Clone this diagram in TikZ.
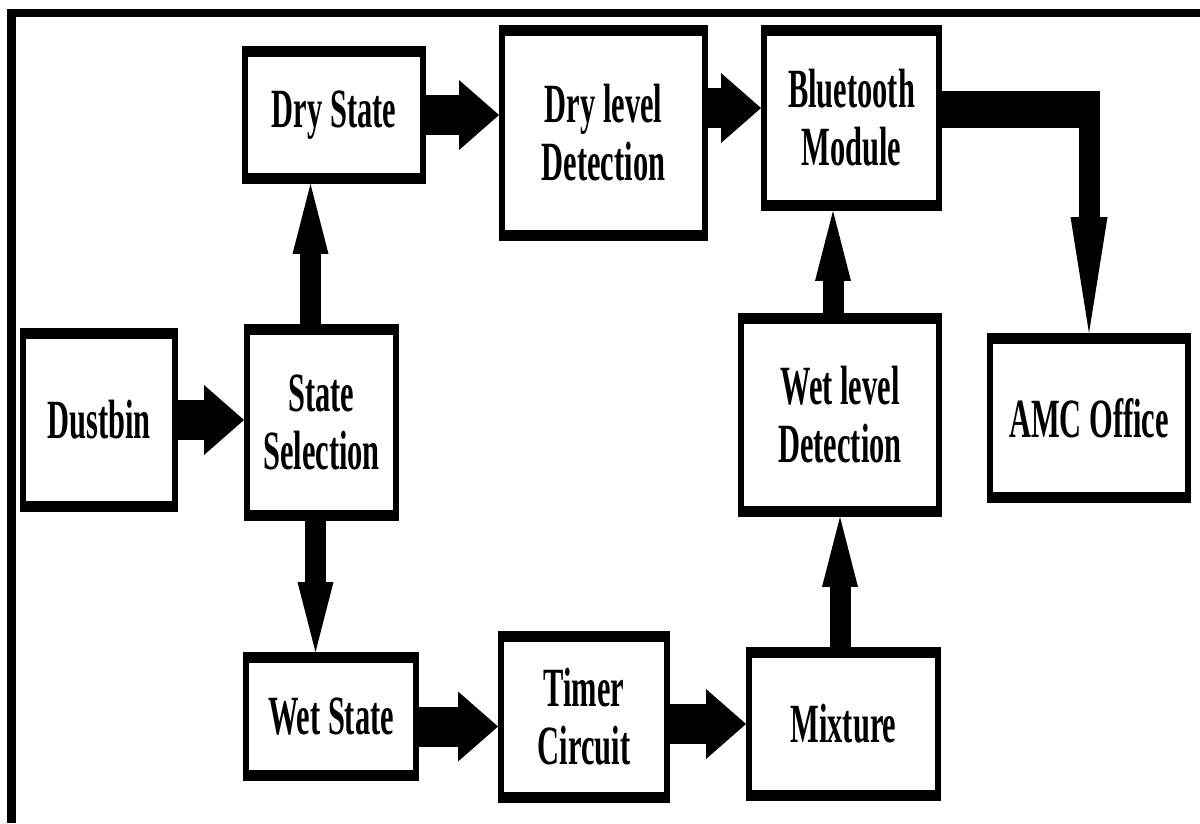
\documentclass[tikz,border=0pt]{standalone}
\usepackage{fontspec}
\newfontfamily\blockfont{Liberation Serif}[FakeStretch=0.55]
\usepackage{tikz}
\usetikzlibrary{arrows.meta, positioning, calc}

\begin{document}
\begin{tikzpicture}[x=0.02cm, y=-0.02cm,
			block/.style={shape=rectangle,
				draw=black, fill=white,
				line width=0.12cm,
				align=center, inner sep=0pt,
				font=\blockfont\bfseries\fontsize{31.5}{33}\selectfont,
				path picture={
					\fill[black] (path picture bounding box.north west) rectangle ([yshift=-0.16cm]path picture bounding box.north east);
					\fill[black] (path picture bounding box.south west) rectangle ([yshift=0.16cm]path picture bounding box.south east);
				}},
			flowH/.style={line width=0.8cm, -{Triangle[width=1.4cm, length=0.8cm, line width=0pt]}},
			flowV/.style={line width=0.42cm, -{Triangle[width=0.72cm, length=1.4cm, line width=0pt]}},
			flowL/.style={line width=0.42cm, -{Triangle[width=0.74cm, length=2.32cm, line width=0pt]}}]

			\useasboundingbox (0,0) rectangle (1200,823);
			% outer frame
			\draw[line width=0.17cm] (11.5,823) |- (1200,13);

			\node[block, minimum width=3.04cm, minimum height=3.56cm] at (99,420) (dust){Dustbin};
			\node[block, minimum width=2.98cm, minimum height=3.82cm] at (321.5,422.5) (sel){State\\Selection};
			\node[block, minimum width=3.56cm, minimum height=2.64cm] at (334,115) (dry){Dry State};
			\node[block, minimum width=4.06cm, minimum height=4.20cm] at (603.5,133) (drylvl){Dry level\\Detection};
			\node[block, minimum width=3.50cm, minimum height=3.60cm] at (851.5,118) (bt){Bluetooth\\Module};
			\node[block, minimum width=3.96cm, minimum height=3.96cm] at (840,415) (wl){Wet level\\Detection};
			\node[block, minimum width=3.96cm, minimum height=3.28cm] at (1089,418) (amc){AMC Office};
			\node[block, minimum width=3.40cm, minimum height=2.46cm] at (331,716.5) (ws){Wet State};
			\node[block, minimum width=3.32cm, minimum height=3.32cm] at (584,717) (tc){Timer\\Circuit};
			\node[block, minimum width=3.78cm, minimum height=2.96cm] at (843.5,724) (mix){Mixture};

			\coordinate (selup) at ($(sel.north)+(-11,0)$);
			\coordinate (seldown) at ($(sel.south)+(-6,0)$);
			\coordinate (wsout) at ($(ws.east)+(0,10)$);
			\coordinate (btin) at ($(bt.west)+(0,-10)$);
			\coordinate (wlup) at ($(wl.north)+(-7,0)$);
			\coordinate (btout) at ($(bt.east)+(0,-9)$);

			\draw[flowH] (dust.east) -- (dust.east -| sel.west);
			\draw[flowV] (selup) -- (selup |- dry.south);
			\draw[flowV] (seldown) -- (seldown |- ws.north);
			\draw[flowH] (dry.east) -- (dry.east -| drylvl.west);
			\draw[flowH] (drylvl.east |- btin) -- (btin);
			\draw[flowH] (wsout) -- (wsout -| tc.west);
			\draw[flowH] (tc.east |- mix.west) -- (mix.west);
			\draw[flowV] (wl.south |- mix.north) -- (wl.south);
			\draw[flowV] (wlup) -- (wlup |- bt.south);
			\draw[line width=0.74cm] (btout) -- ($(amc.north |- btout)+(10.5,0)$);
			\draw[flowL] ($(amc.north |- btout)+(0,-18.5)$) -- (amc.north);
		\end{tikzpicture}
\end{document}
